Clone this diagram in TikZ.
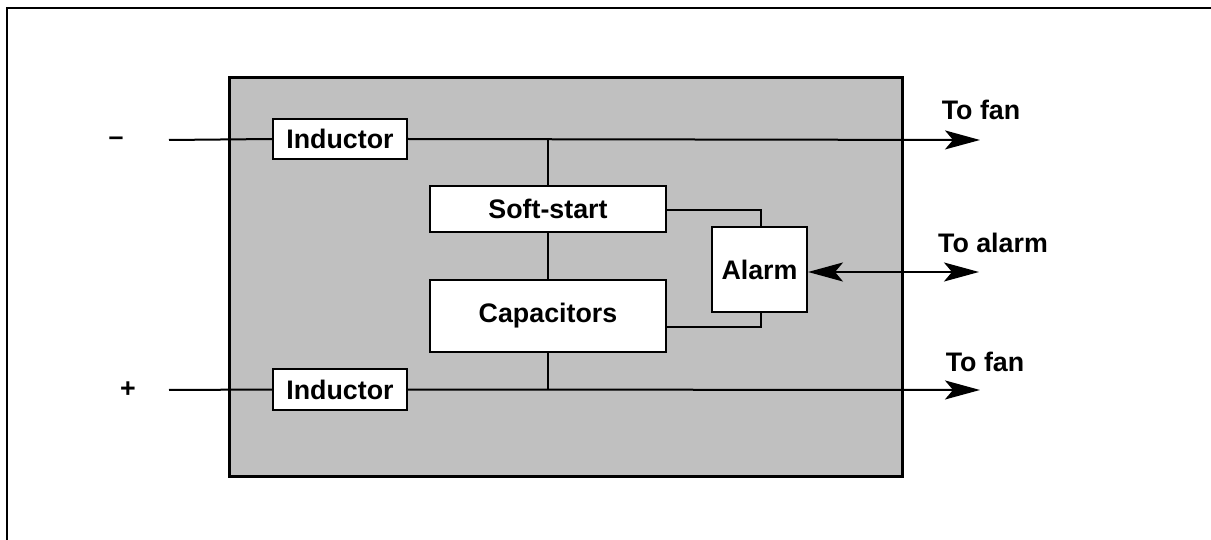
\documentclass[tikz,border=0pt]{standalone}
\usepackage{fontspec}
\setmainfont{Liberation Sans}
\usetikzlibrary{arrows.meta}
\begin{document}
\begin{tikzpicture}[x=1pt,y=-1pt,
  every node/.style={font=\fontsize{26.8}{30}\selectfont\bfseries},
  blk/.style={draw=black, line width=2pt, fill=white, inner sep=0pt},
  wire/.style={line width=2pt},
  arr/.style={wire, -{Stealth[length=35pt,width=19pt,inset=8pt]}},
  darr/.style={wire, {Stealth[length=35pt,width=19pt,inset=8pt]}-{Stealth[length=35pt,width=19pt,inset=8pt]}},
  lbl/.style={inner sep=0pt}
]
\useasboundingbox (0,0) rectangle (1211,540);
% frame
\draw[line width=2.2pt] (7,540) -- (7,8) -- (1211,8);
% housing
\node[draw=black, line width=3pt, fill={rgb,255:red,192;green,192;blue,192}, minimum width=673pt, minimum height=398pt, inner sep=0pt] (box) at (565.5,277) {};
% blocks
\node[blk, minimum width=134pt, minimum height=40pt] (ind1) at (340,139) {Inductor};
\node[blk, minimum width=134pt, minimum height=41pt] (ind2) at (340,389.5) {Inductor};
\node[blk, minimum width=236pt, minimum height=46pt] (soft) at (548,209) {Soft-start};
\node[blk, minimum width=236pt, minimum height=72pt] (cap) at (548,316) {Capacitors};
\node[blk, minimum width=95pt, minimum height=85pt] (alarm) at (759.5,269.5) {Alarm};
% labels
\node[lbl] (minus) at (116,141) {–};
\node[lbl] (plus) at (128,390) {+};
\node[lbl] (fan1) at (981,110) {To fan};
\node[lbl] (alm) at (993,243) {To alarm};
\node[lbl] (fan2) at (985,362) {To fan};
% coordinates
\coordinate (in1) at (169,140);
\coordinate (in2) at (169,390);
\coordinate (out1) at (980,140);
\coordinate (out2) at (980,390);
\coordinate (outa) at (979,272);
\coordinate (j1) at (548,140);
\coordinate (j2) at (548,390);
% wires
\draw[wire] (in1) -- (ind1.west);
\draw[wire] (in2) -- (ind2.west);
\draw[arr] (ind1.east) -- (out1);
\draw[arr] (ind2.east) -- (out2);
\draw[wire] (j1) -- (soft.north);
\draw[wire] (soft.south) -- (cap.north);
\draw[wire] (cap.south) -- (j2);
\draw[wire] (soft.east |- 0,210) -| (alarm.north -| 761,0);
\draw[wire] (cap.east |- 0,327) -| (alarm.south -| 761,0);
\draw[darr] (alarm.east |- 0,272) -- (outa);
\end{tikzpicture}
\end{document}
